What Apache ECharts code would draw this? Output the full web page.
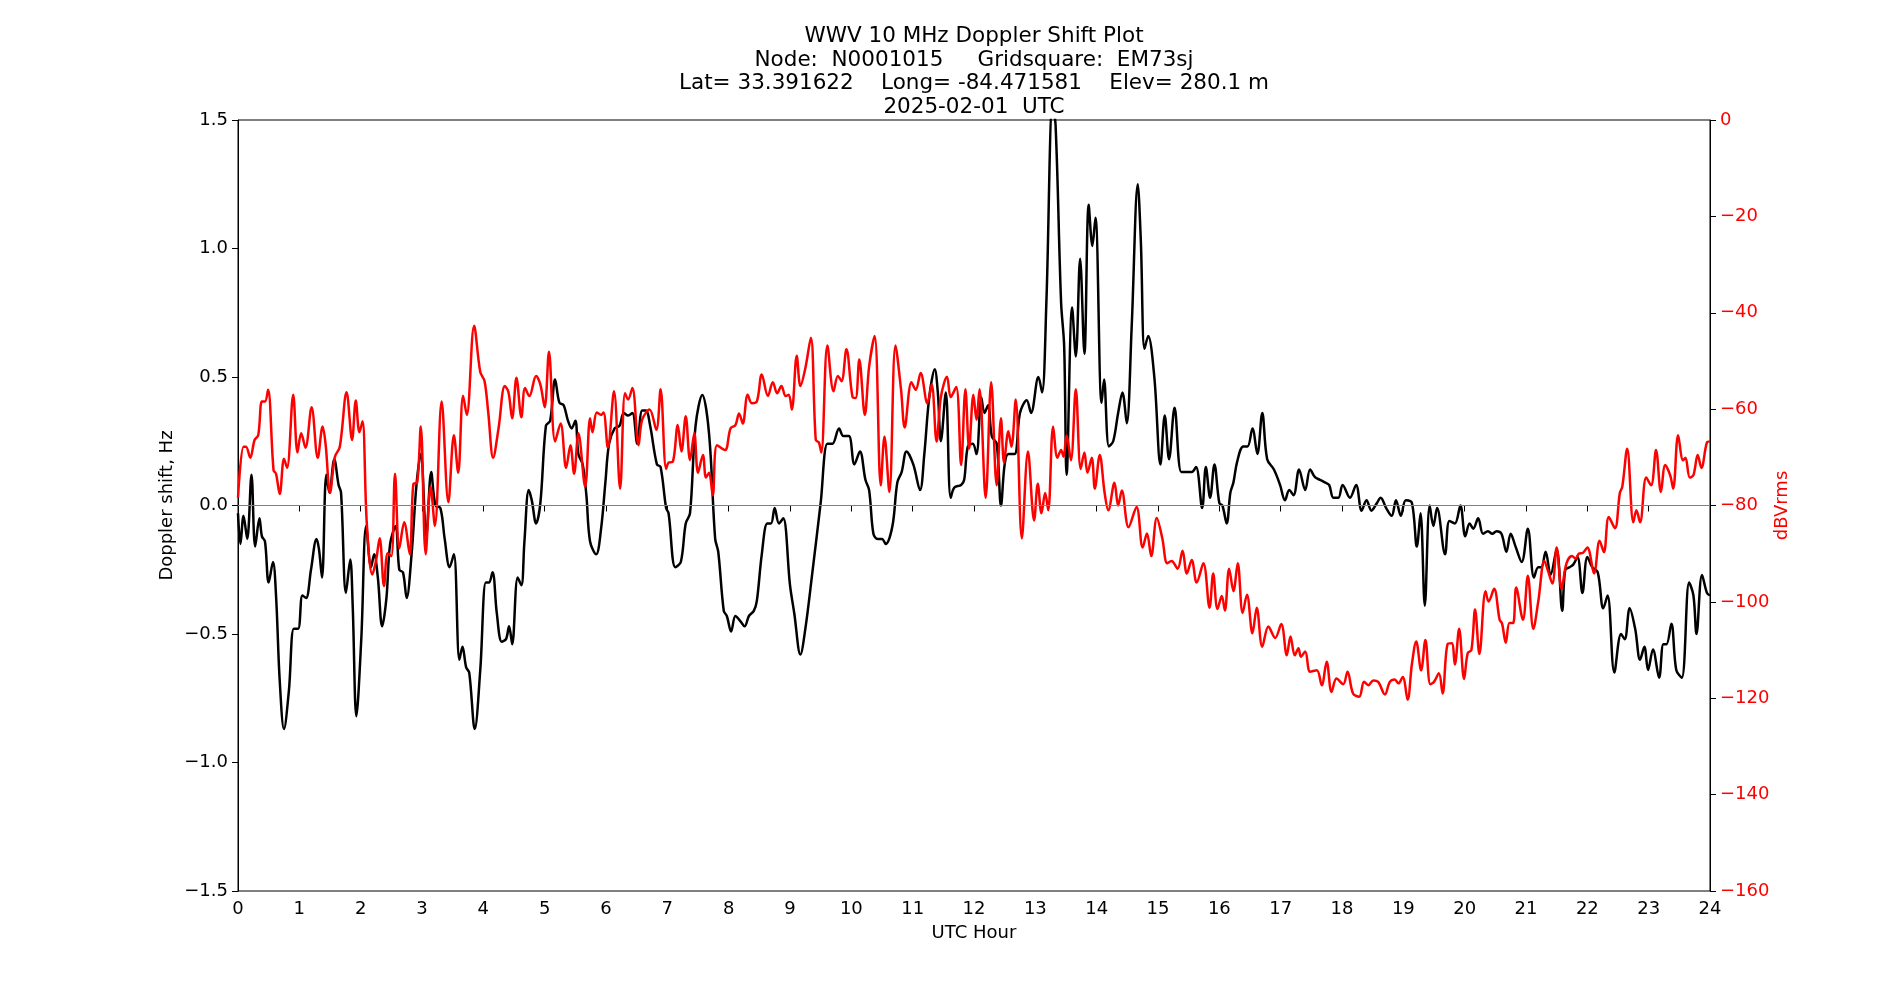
<!DOCTYPE html>
<html>
<head>
<meta charset="utf-8">
<title>WWV 10 MHz Doppler Shift Plot</title>
<script src="https://cdn.jsdelivr.net/npm/echarts@6/dist/echarts.min.js"></script>
<style>
  html, body { margin: 0; padding: 0; background: #fff; }
  #main { width: 1900px; height: 1000px; }
</style>
</head>
<body>
<div id="main"></div>
<script>
// Doppler shift (Hz) vs UTC hour
const dopplerHours = [
  0.00, 0.04, 0.09, 0.15, 0.22, 0.28, 0.35, 0.39, 0.44, 0.50, 0.57, 0.62, 0.68, 0.75, 0.83, 0.91, 0.98,
  1.05, 1.11, 1.19, 1.28, 1.32, 1.37, 1.44, 1.49, 1.57, 1.64, 1.68, 1.76, 1.83, 1.87, 1.93,
  2.01, 2.09, 2.17, 2.22, 2.28, 2.35, 2.42, 2.48, 2.57, 2.63, 2.69, 2.75, 2.83, 2.91, 2.98,
  3.07, 3.15, 3.22, 3.30, 3.37, 3.45, 3.52, 3.61, 3.66, 3.72, 3.77, 3.86, 3.95,
  4.04, 4.09, 4.15, 4.22, 4.30, 4.37, 4.42, 4.47, 4.56, 4.62, 4.67, 4.74, 4.79, 4.86, 4.93,
  5.02, 5.09, 5.17, 5.24, 5.31, 5.38, 5.44, 5.50, 5.55, 5.62, 5.68, 5.74, 5.84, 5.92, 5.99,
  6.05, 6.14, 6.22, 6.29, 6.36, 6.43, 6.51, 6.59, 6.65, 6.72, 6.83, 6.89, 6.98,
  7.02, 7.13, 7.22, 7.30, 7.37, 7.46, 7.57, 7.68, 7.78, 7.83, 7.92, 7.97,
  8.04, 8.11, 8.19, 8.26, 8.33, 8.41, 8.46, 8.54, 8.63, 8.69, 8.75, 8.82, 8.89,
  9.00, 9.07, 9.17, 9.25, 9.36, 9.50, 9.61, 9.69, 9.80, 9.87, 9.96,
  10.05, 10.14, 10.23, 10.29, 10.36, 10.43, 10.50, 10.56, 10.67, 10.75, 10.82, 10.90,
  11.01, 11.12, 11.19, 11.27, 11.36, 11.41, 11.46, 11.54, 11.62, 11.68, 11.79, 11.84, 11.90, 11.98,
  12.04, 12.12, 12.17, 12.23, 12.29, 12.37, 12.44, 12.50, 12.56, 12.66, 12.75, 12.86, 12.93,
  13.05, 13.11, 13.18, 13.28, 13.33, 13.42, 13.47, 13.51, 13.60, 13.66, 13.73, 13.80, 13.87, 13.93, 13.98,
  14.08, 14.12, 14.20, 14.27, 14.35, 14.42, 14.49, 14.57, 14.67, 14.72, 14.78, 14.84, 14.94,
  15.04, 15.11, 15.18, 15.27, 15.38, 15.47, 15.55, 15.62, 15.72, 15.78, 15.85, 15.92,
  16.00, 16.05, 16.12, 16.18, 16.23, 16.29, 16.39, 16.46, 16.54, 16.62, 16.70, 16.78, 16.89, 16.99,
  17.07, 17.14, 17.21, 17.30, 17.40, 17.48, 17.56, 17.64, 17.72, 17.79, 17.86, 17.94,
  18.01, 18.13, 18.23, 18.32, 18.40, 18.48, 18.57, 18.63, 18.72, 18.81, 18.88, 18.96,
  19.04, 19.14, 19.22, 19.28, 19.35, 19.43, 19.49, 19.55, 19.68, 19.75, 19.84, 19.93,
  20.01, 20.08, 20.14, 20.22, 20.30, 20.38, 20.45, 20.52, 20.60, 20.68, 20.75, 20.83, 20.93,
  21.03, 21.13, 21.20, 21.25, 21.32, 21.40, 21.50, 21.59, 21.64, 21.71, 21.77, 21.84, 21.92,
  22.00, 22.08, 22.17, 22.26, 22.33, 22.44, 22.55, 22.61, 22.69, 22.78, 22.86, 22.93, 22.99,
  23.07, 23.17, 23.24, 23.29, 23.37, 23.45, 23.54, 23.66, 23.73, 23.78, 23.87, 23.95, 24.00
];
const dopplerHz = [
  -0.03, -0.15, -0.04, -0.13, 0.12, -0.16, -0.05, -0.12, -0.14, -0.30, -0.22, -0.35, -0.68, -0.87, -0.72, -0.48, -0.48,
  -0.35, -0.36, -0.25, -0.13, -0.17, -0.28, 0.12, 0.05, 0.18, 0.08, 0.05, -0.34, -0.21, -0.39, -0.82,
  -0.52, -0.08, -0.24, -0.19, -0.28, -0.47, -0.36, -0.15, -0.08, -0.25, -0.26, -0.36, -0.19, 0.08, 0.20,
  -0.12, 0.13, 0.00, -0.01, -0.13, -0.24, -0.19, -0.60, -0.55, -0.63, -0.65, -0.87, -0.64,
  -0.30, -0.30, -0.26, -0.42, -0.53, -0.52, -0.47, -0.54, -0.28, -0.31, -0.14, 0.06, 0.02, -0.07, 0.01,
  0.31, 0.33, 0.49, 0.40, 0.39, 0.33, 0.30, 0.33, 0.20, 0.16, 0.04, -0.14, -0.19, -0.09, 0.09,
  0.24, 0.30, 0.31, 0.36, 0.35, 0.36, 0.24, 0.37, 0.37, 0.31, 0.16, 0.15, -0.01,
  -0.03, -0.24, -0.22, -0.07, -0.03, 0.31, 0.43, 0.28, -0.13, -0.18, -0.41, -0.43,
  -0.49, -0.43, -0.45, -0.47, -0.43, -0.41, -0.37, -0.19, -0.07, -0.07, -0.01, -0.07, -0.05,
  -0.31, -0.42, -0.58, -0.48, -0.27, 0.01, 0.24, 0.24, 0.30, 0.27, 0.27,
  0.16, 0.21, 0.10, 0.06, -0.11, -0.13, -0.13, -0.15, -0.08, 0.09, 0.13, 0.21,
  0.16, 0.06, 0.20, 0.42, 0.53, 0.44, 0.25, 0.44, 0.03, 0.07, 0.08, 0.10, 0.23, 0.24,
  0.20, 0.42, 0.36, 0.39, 0.27, 0.24, 0.00, 0.16, 0.20, 0.20, 0.36, 0.41, 0.36,
  0.50, 0.44, 0.79, 1.56, 1.48, 0.79, 0.62, 0.12, 0.77, 0.58, 0.96, 0.59, 1.17, 1.01, 1.12,
  0.40, 0.49, 0.23, 0.25, 0.36, 0.44, 0.32, 0.69, 1.25, 1.03, 0.61, 0.66, 0.50,
  0.16, 0.35, 0.18, 0.38, 0.13, 0.13, 0.13, 0.15, -0.01, 0.15, 0.03, 0.16,
  0.01, 0.00, -0.07, 0.05, 0.09, 0.17, 0.23, 0.23, 0.30, 0.20, 0.36, 0.18, 0.14, 0.08,
  0.02, 0.06, 0.04, 0.14, 0.06, 0.14, 0.11, 0.10, 0.09, 0.08, 0.03, 0.03,
  0.08, 0.03, 0.08, -0.02, 0.02, -0.02, 0.01, 0.03, -0.01, -0.04, 0.02, -0.04,
  0.02, 0.01, -0.16, -0.03, -0.39, 0.00, -0.08, -0.01, -0.19, -0.06, -0.07, 0.00,
  -0.12, -0.07, -0.09, -0.05, -0.11, -0.10, -0.11, -0.10, -0.11, -0.18, -0.11, -0.16, -0.22,
  -0.09, -0.28, -0.24, -0.24, -0.18, -0.27, -0.17, -0.41, -0.25, -0.24, -0.23, -0.20, -0.34,
  -0.20, -0.24, -0.26, -0.40, -0.35, -0.65, -0.50, -0.52, -0.40, -0.48, -0.60, -0.55, -0.64,
  -0.56, -0.67, -0.54, -0.54, -0.46, -0.64, -0.67, -0.30, -0.35, -0.50, -0.27, -0.34, -0.35
];

// received signal level (dBVrms) vs UTC hour
const powerHours = [
  0.00, 0.09, 0.13, 0.20, 0.27, 0.33, 0.39, 0.44, 0.49, 0.58, 0.62, 0.68, 0.75, 0.80, 0.90, 0.97,
  1.03, 1.10, 1.20, 1.30, 1.38, 1.43, 1.50, 1.58, 1.66, 1.77, 1.86, 1.92, 1.98,
  2.03, 2.10, 2.19, 2.25, 2.31, 2.38, 2.44, 2.50, 2.56, 2.63, 2.71, 2.80, 2.86, 2.92, 2.98,
  3.06, 3.14, 3.21, 3.32, 3.43, 3.52, 3.59, 3.67, 3.73, 3.85, 3.95,
  4.02, 4.08, 4.16, 4.25, 4.35, 4.41, 4.47, 4.54, 4.62, 4.68, 4.75, 4.86, 4.93,
  5.00, 5.07, 5.17, 5.26, 5.35, 5.42, 5.48, 5.55, 5.66, 5.74, 5.78, 5.85, 5.92, 5.96,
  6.03, 6.13, 6.23, 6.31, 6.36, 6.43, 6.53, 6.59, 6.71, 6.82, 6.89, 6.98,
  7.02, 7.09, 7.17, 7.23, 7.30, 7.37, 7.44, 7.50, 7.58, 7.63, 7.68, 7.74, 7.81, 7.94,
  8.03, 8.11, 8.17, 8.23, 8.31, 8.38, 8.46, 8.54, 8.64, 8.72, 8.79, 8.86, 8.93, 8.98,
  9.03, 9.11, 9.17, 9.25, 9.34, 9.42, 9.47, 9.51, 9.61, 9.71, 9.78, 9.84, 9.92,
  10.02, 10.07, 10.13, 10.22, 10.29, 10.38, 10.48, 10.54, 10.62, 10.72, 10.81, 10.87, 10.98,
  11.05, 11.13, 11.24, 11.31, 11.39, 11.46, 11.56, 11.62, 11.71, 11.79, 11.86, 11.92, 11.99,
  12.04, 12.09, 12.19, 12.28, 12.37, 12.44, 12.49, 12.56, 12.61, 12.68, 12.78, 12.88, 12.98,
  13.04, 13.10, 13.16, 13.21, 13.29, 13.36, 13.42, 13.46, 13.51, 13.58, 13.66, 13.74, 13.80, 13.85, 13.92, 13.97,
  14.05, 14.13, 14.19, 14.29, 14.35, 14.41, 14.52, 14.65, 14.75, 14.82, 14.89, 14.98,
  15.07, 15.15, 15.22, 15.32, 15.40, 15.47, 15.55, 15.63, 15.74, 15.84, 15.90, 15.97,
  16.04, 16.09, 16.16, 16.23, 16.30, 16.38, 16.45, 16.54, 16.61, 16.70, 16.80, 16.91,
  17.01, 17.10, 17.16, 17.23, 17.29, 17.33, 17.40, 17.48, 17.59, 17.67, 17.75, 17.83, 17.91,
  18.02, 18.09, 18.18, 18.28, 18.36, 18.43, 18.51, 18.59, 18.70, 18.78, 18.86, 18.92, 18.99,
  19.07, 19.14, 19.21, 19.29, 19.36, 19.44, 19.50, 19.58, 19.64, 19.72, 19.79, 19.84, 19.91, 19.99,
  20.05, 20.11, 20.17, 20.24, 20.34, 20.39, 20.48, 20.57, 20.61, 20.67, 20.73, 20.79, 20.84, 20.95,
  21.03, 21.12, 21.20, 21.30, 21.36, 21.43, 21.50, 21.58, 21.66, 21.75, 21.81, 21.86, 21.93,
  22.00, 22.11, 22.20, 22.27, 22.35, 22.45, 22.53, 22.57, 22.65, 22.75, 22.80, 22.86, 22.96,
  23.04, 23.12, 23.20, 23.27, 23.35, 23.40, 23.48, 23.56, 23.60, 23.67, 23.73, 23.80, 23.86, 23.95, 24.00
];
const powerDb = [
  -78.4, -67.8, -67.8, -70.1, -66.4, -65.4, -58.4, -58.4, -56.0, -72.7, -73.4, -77.6, -70.3, -72.2, -57.0, -69.0,
  -65.0, -68.0, -59.6, -70.1, -63.6, -67.5, -77.4, -69.9, -67.8, -56.5, -66.4, -58.2, -64.8,
  -62.5, -83.7, -94.3, -91.5, -86.8, -96.7, -89.9, -90.5, -73.4, -88.9, -83.5, -90.1, -75.5, -75.3, -63.6,
  -90.1, -76.1, -84.2, -58.4, -79.3, -65.4, -73.2, -57.2, -61.2, -42.7, -52.3,
  -54.2, -60.7, -70.1, -63.8, -55.2, -56.5, -61.9, -53.5, -61.7, -55.6, -57.3, -53.1, -54.9,
  -59.6, -48.1, -66.7, -63.0, -72.2, -67.5, -73.4, -65.0, -76.1, -61.9, -64.8, -60.7, -61.2, -60.7,
  -68.0, -56.3, -76.5, -56.7, -58.0, -55.6, -67.5, -62.2, -60.1, -64.3, -55.9, -72.4,
  -71.1, -70.9, -63.3, -68.8, -61.5, -70.6, -65.0, -73.2, -69.5, -74.2, -73.2, -77.9, -67.5, -68.5,
  -64.0, -63.3, -60.9, -63.0, -57.0, -58.8, -58.4, -52.8, -57.3, -54.4, -56.7, -55.2, -57.3, -57.0,
  -60.1, -48.9, -55.2, -51.5, -45.2, -66.4, -66.9, -69.0, -46.8, -56.3, -53.1, -54.2, -47.6,
  -57.5, -57.7, -49.7, -61.2, -51.2, -44.8, -75.8, -65.7, -77.2, -46.8, -55.9, -63.8, -54.4,
  -56.0, -52.5, -58.8, -54.9, -66.7, -57.5, -53.3, -57.5, -55.4, -71.6, -55.9, -68.2, -57.0,
  -62.2, -55.9, -78.4, -54.4, -75.8, -61.9, -71.1, -64.6, -67.8, -58.0, -86.8, -68.8, -83.1,
  -75.5, -81.6, -77.4, -81.0, -63.6, -70.1, -68.5, -69.9, -65.4, -70.6, -55.9, -72.4, -69.0, -73.2, -70.1, -76.5,
  -69.5, -77.4, -81.0, -75.3, -80.0, -76.9, -84.5, -80.3, -88.7, -85.8, -90.5, -82.6,
  -86.8, -92.0, -91.5, -93.1, -89.4, -94.1, -91.3, -96.0, -92.0, -101.2, -94.1, -101.5,
  -98.8, -101.8, -93.1, -97.8, -92.0, -102.3, -98.5, -106.5, -101.2, -109.3, -105.1, -107.5,
  -104.6, -111.1, -107.2, -111.1, -109.6, -111.4, -110.3, -114.5, -114.2, -117.3, -112.4, -118.7, -115.9,
  -117.1, -114.5, -119.0, -119.7, -116.6, -117.3, -116.3, -116.6, -119.2, -116.6, -116.1, -116.9, -115.6,
  -120.3, -112.9, -108.2, -114.2, -107.9, -117.1, -116.6, -114.8, -119.0, -108.8, -108.6, -113.0, -105.6, -116.0,
  -110.6, -110.0, -101.6, -110.8, -97.8, -99.9, -97.3, -103.7, -104.5, -108.5, -104.4, -104.4, -97.0, -103.7,
  -94.6, -105.6, -99.9, -91.5, -93.6, -96.2, -88.7, -97.3, -92.0, -90.5, -91.0, -90.0, -89.8,
  -88.7, -94.1, -87.3, -89.7, -82.4, -84.7, -77.4, -76.1, -68.2, -83.5, -81.0, -83.5, -74.2,
  -75.8, -68.5, -77.2, -71.6, -73.7, -76.5, -65.4, -70.6, -70.1, -74.2, -73.7, -69.5, -72.2, -66.9, -66.7
];

const titleLines = [
  "WWV 10 MHz Doppler Shift Plot",
  "Node:  N0001015     Gridsquare:  EM73sj",
  "Lat= 33.391622    Long= -84.471581    Elev= 280.1 m",
  "2025-02-01  UTC"
];

const FONT = "DejaVu Sans";
const minus = s => String(s).replace("-", "\u2212");

const chartDom = document.getElementById("main");
const myChart = echarts.init(chartDom, null, { renderer: "canvas" });

const option = {
  animation: false,
  backgroundColor: "#fff",
  textStyle: { fontFamily: FONT },
  graphic: [
    {
      type: "text",
      x: 974,
      y: 25,
      style: {
        text: titleLines.join("\n"),
        font: "21.5px 'DejaVu Sans'",
        fill: "#000",
        textAlign: "center",
        textVerticalAlign: "top",
        lineHeight: 23.5
      }
    }
  ],
  grid: {
    left: 238,
    right: 190,
    top: 120,
    bottom: 109,
    show: true,
    borderColor: "#000",
    borderWidth: 1,
    containLabel: false
  },
  xAxis: {
    type: "value",
    min: 0,
    max: 24,
    interval: 1,
    name: "UTC Hour",
    nameLocation: "middle",
    nameGap: 33,
    nameMoveOverlap: false,
    nameTextStyle: { fontSize: 18, color: "#000", fontFamily: FONT },
    axisLine: { show: true, lineStyle: { color: "#000", width: 1 } },
    axisTick: { show: true, length: 6, inside: false, lineStyle: { color: "#000" } },
    axisLabel: { fontSize: 18, color: "#000", margin: 9, fontFamily: FONT },
    splitLine: { show: false }
  },
  yAxis: [
    {
      type: "value",
      min: -1.5,
      max: 1.5,
      interval: 0.5,
      position: "left",
      name: "Doppler shift, Hz",
      nameLocation: "middle",
      nameRotate: 90,
      nameGap: 62,
      nameMoveOverlap: false,
      nameTextStyle: { fontSize: 18, color: "#000", fontFamily: FONT },
      axisLine: { show: true, onZero: false, lineStyle: { color: "#000", width: 1 } },
      axisTick: { show: true, length: 6, inside: false, lineStyle: { color: "#000" } },
      axisLabel: {
        fontSize: 18, color: "#000", margin: 10, fontFamily: FONT,
        formatter: v => minus(v.toFixed(1))
      },
      splitLine: { show: false }
    },
    {
      type: "value",
      min: -160,
      max: 0,
      interval: 20,
      position: "right",
      name: "dBVrms",
      nameLocation: "middle",
      nameRotate: 90,
      nameGap: 63,
      nameMoveOverlap: false,
      nameTextStyle: { fontSize: 18, color: "#ff0000", fontFamily: FONT },
      axisLine: { show: true, onZero: false, lineStyle: { color: "#000", width: 1 } },
      axisTick: { show: true, length: 6, inside: false, lineStyle: { color: "#000" } },
      axisLabel: {
        fontSize: 18, color: "#ff0000", margin: 10, fontFamily: FONT,
        formatter: v => minus(v)
      },
      splitLine: { show: false }
    }
  ],
  series: [
    {
      name: "zero",
      type: "line",
      data: [],
      yAxisIndex: 0,
      z: 1,
      silent: true,
      markLine: {
        silent: true,
        symbol: "none",
        label: { show: false },
        lineStyle: { color: "#808080", width: 1.2, type: "solid" },
        data: [{ yAxis: 0 }]
      }
    },
    {
      name: "Doppler shift",
      type: "line",
      yAxisIndex: 0,
      data: dopplerHours.map((h, i) => [h, dopplerHz[i]]),
      showSymbol: false,
      smooth: 0.35,
      clip: true,
      z: 2,
      lineStyle: { color: "#000", width: 2.5 }
    },
    {
      name: "dBVrms",
      type: "line",
      yAxisIndex: 1,
      data: powerHours.map((h, i) => [h, powerDb[i]]),
      showSymbol: false,
      smooth: 0.35,
      clip: true,
      z: 3,
      lineStyle: { color: "#ff0000", width: 2.5 }
    }
  ]
};

option && myChart.setOption(option);
</script>
</body>
</html>
